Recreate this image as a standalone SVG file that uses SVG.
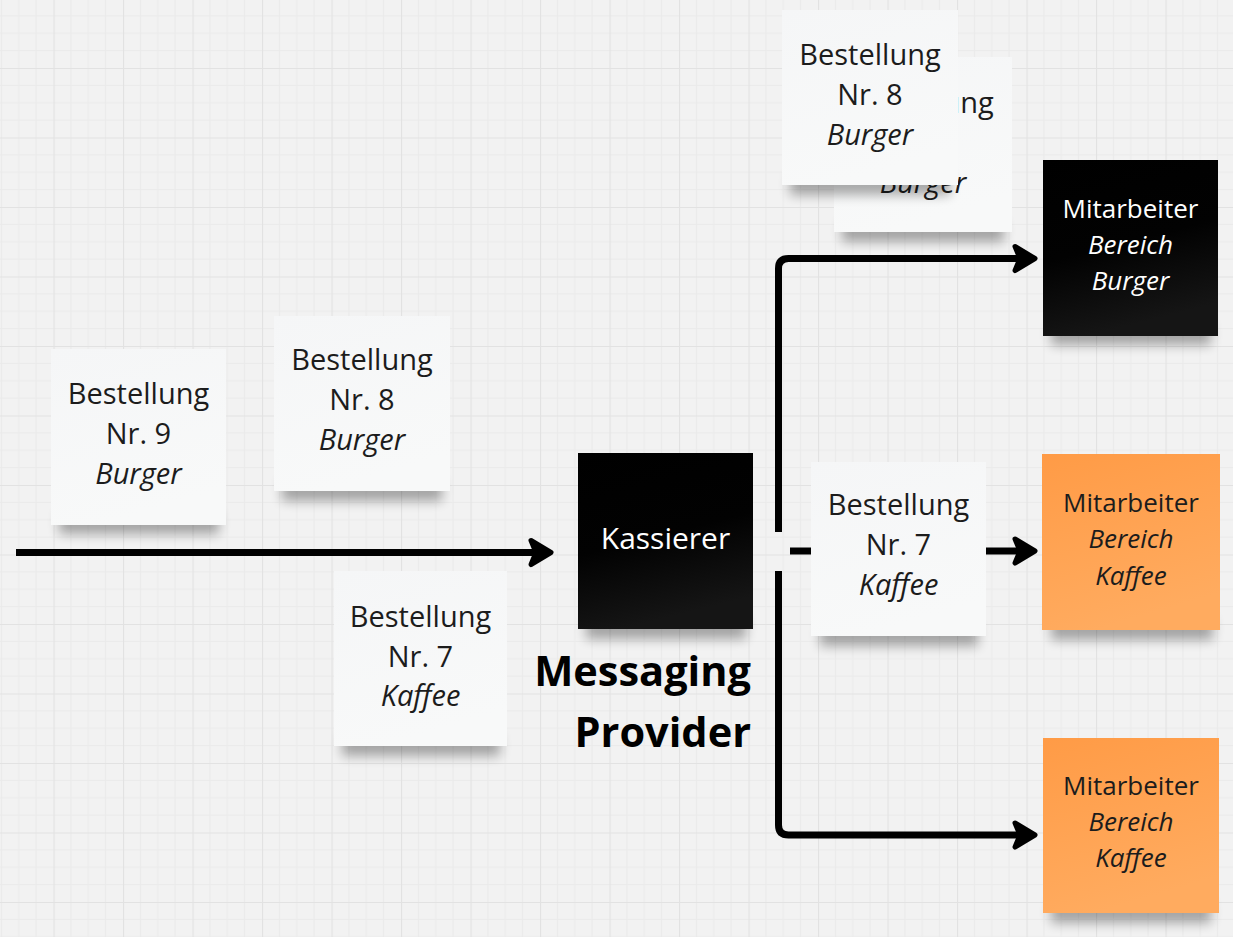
<svg xmlns="http://www.w3.org/2000/svg" width="1233" height="937" viewBox="0 0 1233 937">
<defs>
<style>
.t{font-family:"Open Sans","Noto Sans",sans-serif;font-size:29px;fill:#1c1c1c;text-anchor:middle}
.m{font-size:26px}
.k{font-size:30px}
.i{font-style:italic}
.w{fill:#ffffff}
.b{font-family:"Open Sans","Noto Sans",sans-serif;font-weight:bold;font-size:41.5px;fill:#000;text-anchor:end}
.ln{fill:none;stroke:#000;stroke-width:7;stroke-linejoin:round}
.sh{fill:#000;opacity:.32;filter:url(#blur)}
.wn{fill:url(#gw)}
.bn{fill:url(#gb)}
.on{fill:url(#go)}
</style>
<pattern id="grid" patternUnits="userSpaceOnUse" x="53.5" y="68" width="69.5" height="69.5">
<rect width="69.5" height="69.5" fill="#f2f2f2"/>
<path d="M17.4 0V69.5M34.75 0V69.5M52.1 0V69.5M0 17.4H69.5M0 34.75H69.5M0 52.1H69.5" stroke="#eaeaea" stroke-width="1"/>
<path d="M0.5 0V69.5M0 0.5H69.5" stroke="#e2e2e2" stroke-width="1.2"/>
</pattern>
<filter id="blur" x="-20%" y="-100%" width="140%" height="300%"><feGaussianBlur stdDeviation="6"/></filter>
<linearGradient id="gw" x1="0" y1="0" x2="0.3" y2="1"><stop offset="0" stop-color="#f5f6f7"/><stop offset="1" stop-color="#f8f9f9"/></linearGradient>
<linearGradient id="gb" x1="0" y1="0" x2="0.25" y2="1"><stop offset="0" stop-color="#000"/><stop offset="0.55" stop-color="#020202"/><stop offset="1" stop-color="#151515"/></linearGradient>
<linearGradient id="go" x1="0" y1="0" x2="0.3" y2="1"><stop offset="0" stop-color="#ff9b46"/><stop offset="1" stop-color="#ffab5f"/></linearGradient>
<marker id="ah" markerUnits="userSpaceOnUse" viewBox="-30 -20 40 40" refX="-6" refY="0" markerWidth="40" markerHeight="40" orient="auto" overflow="visible">
<path d="M-22,-12 L-2,0 L-22,12 L-17,0 Z" fill="#000" stroke="#000" stroke-width="5" stroke-linejoin="round"/>
</marker>
</defs>
<rect width="1233" height="937" fill="url(#grid)"/>

<g id="connectors">
<path class="ln" d="M16 552.5H547" marker-end="url(#ah)"/>
<path class="ln" d="M778.5 532V268.5Q778.5 258.5 788.5 258.5H1031" marker-end="url(#ah)"/>
<path class="ln" d="M778.5 571V825Q778.5 835 788.5 835H1031" marker-end="url(#ah)"/>
<path class="ln" d="M790 551H1031" marker-end="url(#ah)"/>
</g>

<g id="note-nr9">
<rect class="sh" x="59" y="512" width="160" height="22"/>
<rect class="wn" x="51" y="349" width="175" height="176"/>
<text class="t" x="138.5" y="404">Bestellung</text>
<text class="t" x="138.5" y="444">Nr. 9</text>
<text class="t i" x="138.5" y="484">Burger</text>
</g>

<g id="note-nr8">
<rect class="sh" x="282" y="479" width="160" height="22"/>
<rect class="wn" x="274" y="316" width="176" height="175"/>
<text class="t" x="362" y="370">Bestellung</text>
<text class="t" x="362" y="410">Nr. 8</text>
<text class="t i" x="362" y="450">Burger</text>
</g>

<g id="note-nr7-left">
<rect class="sh" x="342" y="734" width="158" height="22"/>
<rect class="wn" x="334" y="571" width="173" height="175"/>
<text class="t" x="420.5" y="627">Bestellung</text>
<text class="t" x="420.5" y="667">Nr. 7</text>
<text class="t i" x="420.5" y="706">Kaffee</text>
</g>

<g id="kassierer">
<rect class="sh" x="586" y="617" width="160" height="22"/>
<rect class="bn" x="578" y="453" width="175" height="176"/>
<text class="t w k" x="665.5" y="549">Kassierer</text>
</g>

<g id="label-messaging-provider">
<text class="b" x="751" y="686">Messaging</text>
<text class="b" x="751" y="747">Provider</text>
</g>

<g id="note-top-back">
<rect class="sh" x="842" y="220" width="162" height="22"/>
<rect class="wn" x="834" y="57" width="178" height="175"/>
<text class="t" x="923" y="113">Bestellung</text>
<text class="t" x="923" y="153">Nr. 9</text>
<text class="t i" x="923" y="193">Burger</text>
</g>

<g id="note-top-front">
<rect class="sh" x="790" y="173" width="160" height="22"/>
<rect class="wn" x="782" y="10" width="176" height="175"/>
<text class="t" x="870" y="65">Bestellung</text>
<text class="t" x="870" y="105">Nr. 8</text>
<text class="t i" x="870" y="145">Burger</text>
</g>

<g id="note-nr7-right">
<rect class="sh" x="820" y="624" width="158" height="22"/>
<rect class="wn" x="811" y="462" width="175" height="174"/>
<text class="t" x="898.5" y="515">Bestellung</text>
<text class="t" x="898.5" y="555">Nr. 7</text>
<text class="t i" x="898.5" y="595">Kaffee</text>
</g>

<g id="mitarbeiter-burger">
<rect class="sh" x="1051" y="323" width="160" height="22"/>
<rect class="bn" x="1043" y="160" width="175" height="176"/>
<text class="t w m" x="1130.5" y="218">Mitarbeiter</text>
<text class="t w m i" x="1130.5" y="254">Bereich</text>
<text class="t w m i" x="1130.5" y="290">Burger</text>
</g>

<g id="mitarbeiter-kaffee-1">
<rect class="sh" x="1051" y="618" width="162" height="22"/>
<rect class="on" x="1042" y="454" width="178" height="176"/>
<text class="t m" x="1131" y="512">Mitarbeiter</text>
<text class="t m i" x="1131" y="548">Bereich</text>
<text class="t m i" x="1131" y="585">Kaffee</text>
</g>

<g id="mitarbeiter-kaffee-2">
<rect class="sh" x="1051" y="901" width="160" height="22"/>
<rect class="on" x="1043" y="738" width="176" height="175"/>
<text class="t m" x="1131" y="795">Mitarbeiter</text>
<text class="t m i" x="1131" y="831">Bereich</text>
<text class="t m i" x="1131" y="867">Kaffee</text>
</g>
</svg>
